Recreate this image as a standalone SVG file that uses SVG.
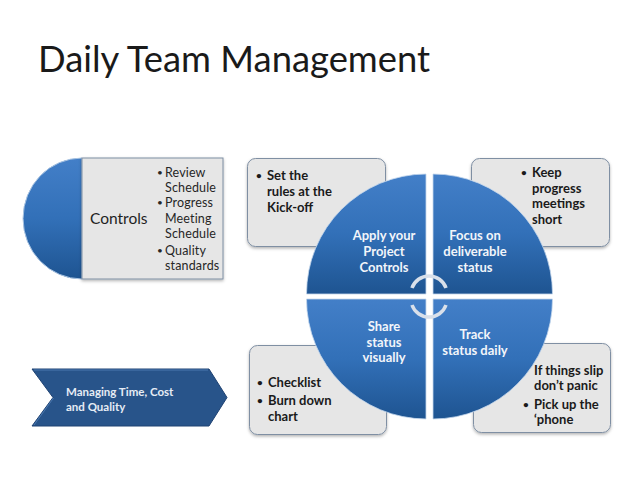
<svg xmlns="http://www.w3.org/2000/svg" width="638" height="479" viewBox="0 0 638 479">
<style>
text{font-family:Lato,"Liberation Sans",sans-serif}
.t{font-size:36.400px;fill:#1a1a1a}
.c{font-size:12.500px;fill:#262626;letter-spacing:.15px}
.b{font-size:13px;font-weight:bold;fill:#1a1a1a}
.d{font-size:10px}
.w{font-size:13px;font-weight:bold;fill:#f2f5fa;text-anchor:middle}
.box{fill:#e6e6e6;stroke:#7f8fa3;stroke-width:1;filter:url(#sh)}
.pie{fill:url(#blue);stroke:#c4d7ec;stroke-width:.8}
.arc{fill:none;stroke:#d9e0ea;stroke-width:3.500}
</style>
<defs>
<linearGradient id="blue" x1="0" y1="0" x2="0" y2="1"><stop offset="0" stop-color="#437fc8"/><stop offset=".5" stop-color="#3270b8"/><stop offset="1" stop-color="#1e5491"/></linearGradient>
<filter id="sh" x="-5%" y="-5%" width="110%" height="112%"><feDropShadow dx="0" dy="1.500" stdDeviation="1.500" flood-color="#000" flood-opacity=".3"/></filter>
</defs>
<rect width="638" height="479" fill="#fff"/>
<text class="t" x="38" y="72">Daily Team Management</text>

<g id="controls">
<path d="M82 158A59 60.500 0 0 0 82 279Z" fill="url(#blue)" stroke="#a9c4e2" stroke-width="1"/>
<rect class="box" x="82" y="158" width="141" height="121"/>
<text x="90" y="224" font-size="15.500" fill="#1f1f1f">Controls</text>
<g class="c">
<text class="d" x="157" y="176">•</text><text x="165" y="177">Review</text>
<text x="165" y="192">Schedule</text>
<text class="d" x="157" y="206">•</text><text x="165" y="207">Progress</text>
<text x="165" y="223">Meeting</text>
<text x="165" y="238">Schedule</text>
<text class="d" x="157" y="254">•</text><text x="165" y="255">Quality</text>
<text x="165" y="270">standards</text>
</g>
</g>

<g id="chevron">
<path d="M32 369H209L227 397.500L209 426H32L53 397.500Z" fill="#28548a" stroke="#1f4272" stroke-width="1"/>
<path d="M34 370H208M53.500 398L34 425" fill="none" stroke="#4a78b0" stroke-width="1"/>
<text x="66" y="396" font-size="11.500" font-weight="bold" fill="#e6ecf5">Managing Time, Cost</text>
<text x="66" y="411" font-size="11.500" font-weight="bold" fill="#e6ecf5">and Quality</text>
</g>

<g id="note-tl">
<rect class="box" x="247.500" y="158.500" width="138" height="88" rx="8"/>
<g class="b"><text class="d" x="256" y="179">•</text><text x="267" y="180">Set the</text><text x="267" y="196">rules at the</text><text x="267" y="212">Kick-off</text></g>
</g>
<g id="note-tr">
<rect class="box" x="471.500" y="158.500" width="138" height="88" rx="8"/>
<g class="b"><text class="d" x="521" y="176">•</text><text x="532" y="177">Keep</text><text x="532" y="193">progress</text><text x="532" y="208">meetings</text><text x="532" y="224">short</text></g>
</g>
<g id="note-bl">
<rect class="box" x="249.500" y="345.500" width="137" height="89" rx="8"/>
<g class="b"><text class="d" x="257" y="386">•</text><text x="268" y="387">Checklist</text><text class="d" x="257" y="404">•</text><text x="268" y="405">Burn down</text><text x="268" y="421">chart</text></g>
</g>
<g id="note-br">
<rect class="box" x="473.500" y="343.500" width="137" height="89" rx="8"/>
<g class="b"><text x="534" y="375">If things slip</text><text x="534" y="390">don’t panic</text><text class="d" x="523" y="408">•</text><text x="534" y="409">Pick up the</text><text x="534" y="424">‘phone</text></g>
</g>

<g id="pie-apply">
<path class="pie" d="M426 294V174A120 120 0 0 0 306.500 294Z"/>
<text class="w" x="384" y="240">Apply your</text><text class="w" x="384" y="256">Project</text><text class="w" x="384" y="272">Controls</text>
</g>
<g id="pie-focus">
<path class="pie" d="M433 294V174A119.500 120 0 0 1 552.500 294Z"/>
<text class="w" x="475" y="240">Focus on</text><text class="w" x="475" y="256">deliverable</text><text class="w" x="475" y="272">status</text>
</g>
<g id="pie-share">
<path class="pie" d="M426 299V419A120 120 0 0 1 306.500 299Z"/>
<text class="w" x="384" y="331">Share</text><text class="w" x="384" y="347">status</text><text class="w" x="384" y="362">visually</text>
</g>
<g id="pie-track">
<path class="pie" d="M433 299V419A119.500 120 0 0 0 552.500 299Z"/>
<text class="w" x="475" y="339">Track</text><text class="w" x="475" y="355">status daily</text>
</g>

<g id="connectors">
<path class="arc" d="M412 288A18 18 0 0 1 446 288"/>
<path class="arc" d="M412 305A18 18 0 0 0 446 305"/>
</g>
</svg>
